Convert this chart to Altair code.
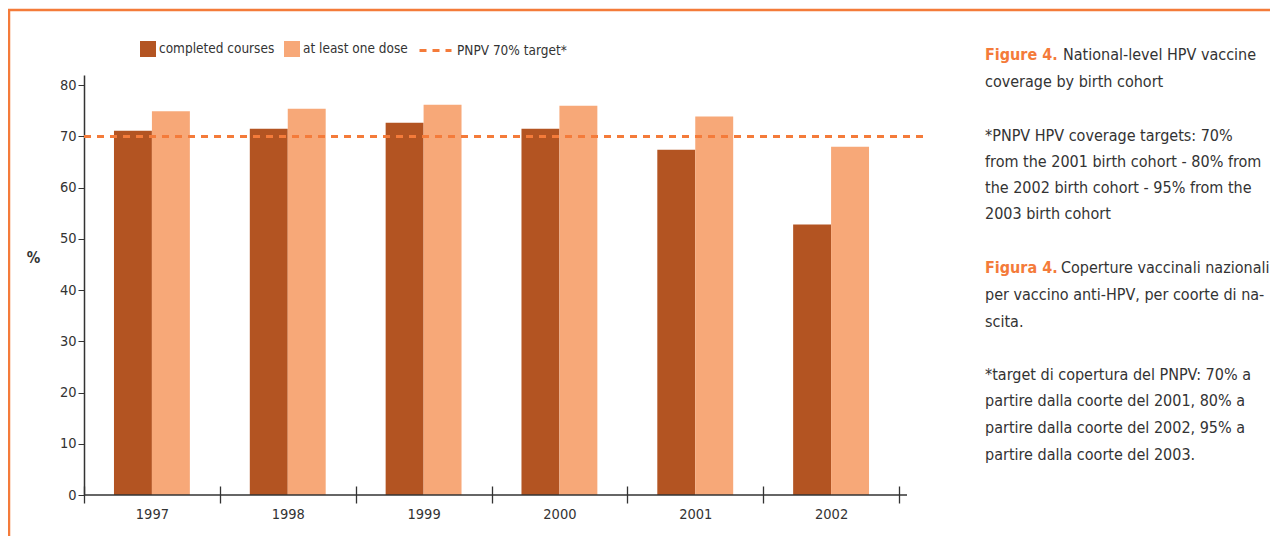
import altair as alt
import pandas as pd

# ---- data ----
years = ["1997", "1998", "1999", "2000", "2001", "2002"]
completed = [71.1, 71.5, 72.7, 71.5, 67.4, 52.8]
one_dose = [74.9, 75.4, 76.2, 76.0, 73.9, 68.0]
series_names = ["completed courses", "at least one dose"]
target_value = [70]
target_label = ["PNPV 70% target*"]
y_ticks = [0, 10, 20, 30, 40, 50, 60, 70, 80]

caption_bold = ["Figure 4.", "Figura 4."]
caption_lines = [
    "National-level HPV vaccine",
    "coverage by birth cohort",
    "*PNPV HPV coverage targets: 70%",
    "from the 2001 birth cohort - 80% from",
    "the 2002 birth cohort - 95% from the",
    "2003 birth cohort",
    "Coperture vaccinali nazionali",
    "per vaccino anti-HPV, per coorte di na-",
    "scita.",
    "*target di copertura del PNPV: 70% a",
    "partire dalla coorte del 2001, 80% a",
    "partire dalla coorte del 2002, 95% a",
    "partire dalla coorte del 2003.",
]

# ---- style ----
FONT = "DejaVu Sans Condensed, DejaVu Sans, sans-serif"
C_DARK = "#B35422"
C_LIGHT = "#F7A878"
C_ORANGE = "#F47B3A"
C_TEXT = "#333333"
CAP_SIZE = 16

rows = []
for y, c, o in zip(years, completed, one_dose):
    rows.append({"year": y, "series": series_names[0], "value": c})
    rows.append({"year": y, "series": series_names[1], "value": o})
bars_df = pd.DataFrame(rows)
target_df = pd.DataFrame({"target": target_value, "label": target_label})

# caption text positions (annotation layout, in pixels relative to plot area)
cap_x = 901
line_py = [-20, 7, 61, 87, 113, 139, 193, 220, 247, 300, 326, 353, 380]
line_px = [979, cap_x, cap_x, cap_x, cap_x, cap_x, 977, cap_x, cap_x, cap_x, cap_x, cap_x, cap_x]
cap_df = pd.DataFrame({"txt": caption_lines, "px": line_px, "py": line_py})
bold_df = pd.DataFrame({"txt": caption_bold, "px": [cap_x, cap_x], "py": [-20, 193]})

y_scale = alt.Scale(domain=[0, 82], nice=False)

bars = alt.Chart(bars_df).mark_bar().encode(
    x=alt.X("year:N", sort=years, title=None,
            scale=alt.Scale(paddingInner=0, paddingOuter=0),
            axis=alt.Axis(tickBand="extent", labelAngle=0, domain=False,
                          offset=-9, tickSize=17, tickColor="#333", tickWidth=1.3,
                          labelFont=FONT, labelFontSize=14.5, labelColor=C_TEXT,
                          labelPadding=4, labelFontWeight="normal")),
    xOffset=alt.XOffset("series:N", sort=series_names,
                        scale=alt.Scale(paddingInner=0, paddingOuter=0.79)),
    y=alt.Y("value:Q", scale=y_scale, title="%",
            axis=alt.Axis(values=y_ticks, grid=False, tickSize=6, tickColor="#333",
                          domainColor="#333", domainWidth=1.5,
                          labelFont=FONT, labelFontSize=14.5, labelColor=C_TEXT,
                          labelPadding=2,
                          titleAngle=0, titleX=-51, titleY=182, titleAlign="center",
                          titleBaseline="middle", titleFont=FONT, titleFontSize=15,
                          titleFontWeight="bold", titleColor=C_TEXT)),
    color=alt.Color("series:N",
                    scale=alt.Scale(domain=series_names, range=[C_DARK, C_LIGHT]),
                    legend=alt.Legend(orient="none", legendX=56, legendY=-34,
                                      direction="horizontal", title=None,
                                      symbolType="square", symbolSize=256,
                                      symbolStrokeWidth=0,
                                      labelFont=FONT, labelFontSize=13.5,
                                      labelColor=C_TEXT, labelOffset=3,
                                      columnPadding=9, padding=0)),
)

baseline = alt.Chart(pd.DataFrame({"z": [0]})).mark_rule(
    color="#333", strokeWidth=1.5
).encode(y=alt.Y("z:Q", scale=y_scale), x=alt.value(0), x2=alt.value(823))

target = alt.Chart(target_df).mark_rule(
    strokeDash=[7, 6], strokeWidth=3
).encode(
    y=alt.Y("target:Q", scale=y_scale),
    x=alt.value(0), x2=alt.value(841),
    color=alt.Color("label:N", scale=alt.Scale(range=[C_ORANGE]),
                    legend=alt.Legend(orient="none", legendX=334, legendY=-42,
                                      title=None, symbolType="stroke",
                                      symbolSize=1024, symbolDash=[7, 6],
                                      symbolStrokeWidth=3,
                                      labelFont=FONT, labelFontSize=13.5,
                                      labelColor=C_TEXT, labelOffset=4, padding=0)),
)

caption = alt.Chart(cap_df).mark_text(
    align="left", baseline="middle", font=FONT, fontSize=CAP_SIZE, color=C_TEXT
).encode(x=alt.X("px:Q", scale=None), y=alt.Y("py:Q", scale=None), text="txt:N")

caption_b = alt.Chart(bold_df).mark_text(
    align="left", baseline="middle", font=FONT, fontSize=CAP_SIZE, color=C_ORANGE,
    fontWeight="bold"
).encode(x=alt.X("px:Q", scale=None), y=alt.Y("py:Q", scale=None), text="txt:N")

frame = alt.Chart(pd.DataFrame({"f": [0]})).mark_rect(
    fill=None, stroke=C_ORANGE, strokeWidth=2.5
).encode(x=alt.value(-75), x2=alt.value(2000), y=alt.value(-65), y2=alt.value(1000))

chart = alt.layer(frame, bars, baseline, target, caption, caption_b).resolve_scale(
    color="independent"
).properties(
    width=815, height=420,
    autosize=alt.AutoSizeParams(type="none"),
    padding={"left": 76, "top": 67, "right": 371, "bottom": 41},
    background="white",
).configure_view(strokeWidth=0, stroke="transparent")

chart.save("out.html", embed_options={"renderer": "svg", "actions": False})
